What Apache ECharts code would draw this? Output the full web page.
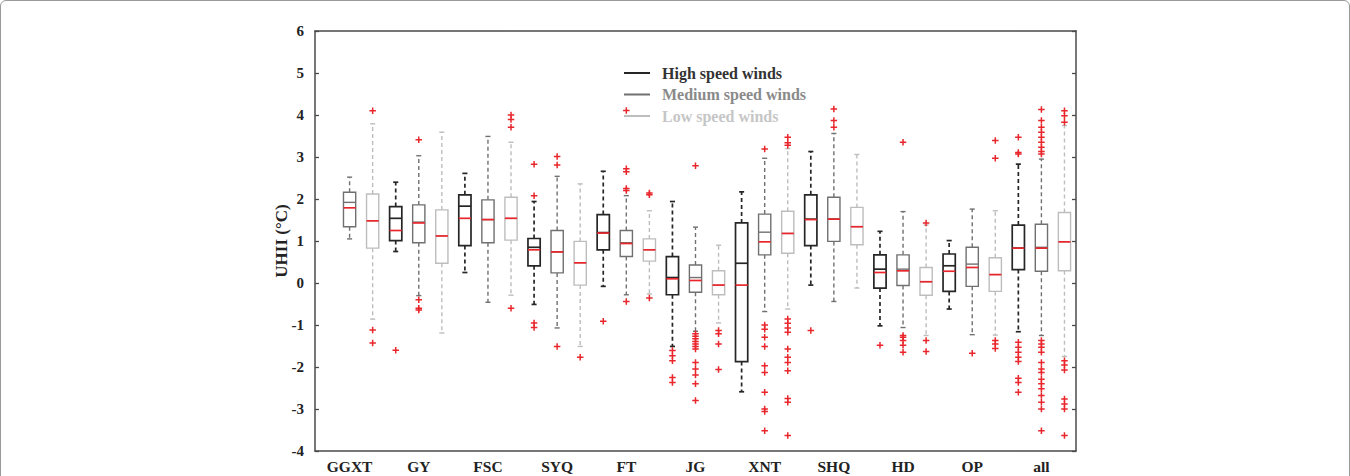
<!DOCTYPE html>
<html>
<head>
<meta charset="utf-8">
<script src="https://cdn.jsdelivr.net/npm/echarts@6/dist/echarts.min.js"></script>
<style>
html,body{margin:0;padding:0;background:#fff;}
#frame{position:absolute;left:0;top:0;width:1348px;height:480px;border:1px solid #9a9a9a;border-radius:6px;}
#chart{position:absolute;left:0;top:0;width:1350px;height:476px;}
</style>
</head>
<body>
<div id="frame"></div>
<div id="chart"></div>
<script>
// ---------- data ----------
const groups = ['GGXT','GY','FSC','SYQ','FT','JG','XNT','SHQ','HD','OP','all'];
const seriesNames = ['High speed winds','Medium speed winds','Low speed winds'];
const yTicks = [-4,-3,-2,-1,0,1,2,3,4,5,6];

// [lower whisker, Q1, median, Q3, upper whisker]
const highStats = [
  null,
  [0.75, 1.01, 1.25, 1.82, 2.40],
  [0.25, 0.89, 1.54, 2.10, 2.61],
  [-0.51, 0.41, 0.79, 1.06, 1.94],
  [-0.08, 0.79, 1.19, 1.63, 2.66],
  [-1.51, -0.28, 0.10, 0.63, 1.94],
  [-2.59, -1.87, -0.05, 1.43, 2.17],
  [-0.05, 0.89, 1.51, 2.10, 3.13],
  [-1.02, -0.12, 0.25, 0.67, 1.23],
  [-0.62, -0.20, 0.28, 0.69, 1.01],
  [-1.16, 0.32, 0.83, 1.38, 2.83]
];
const highMeans = [null, 1.54, 1.83, 0.85, 1.20, 0.13, 0.47, 1.52, 0.33, 0.41, 0.83];
const highOutliers = [
  [],
  [-1.60],
  [],
  [2.83, 2.08, -0.95, -1.06],
  [-0.91],
  [-1.61, -1.73, -1.85, -2.25, -2.37],
  [],
  [-1.13],
  [-1.48],
  [],
  [3.47, 3.11, 3.07, -1.41, -1.53, -1.65, -1.77, -1.87, -2.27, -2.37, -2.60]
];

const medStats = [
  [1.05, 1.34, 1.79, 2.16, 2.52],
  [-0.30, 0.96, 1.43, 1.86, 3.03],
  [-0.46, 0.96, 1.51, 1.98, 3.49],
  [-1.07, 0.24, 0.74, 1.25, 2.54],
  [-0.28, 0.63, 0.94, 1.25, 2.08],
  [-1.15, -0.22, 0.06, 0.43, 1.33],
  [-0.68, 0.67, 0.98, 1.64, 2.97],
  [-0.44, 0.99, 1.52, 2.04, 3.56],
  [-1.06, -0.06, 0.29, 0.67, 1.70],
  [-1.23, -0.08, 0.37, 0.85, 1.76],
  [-1.25, 0.28, 0.83, 1.40, 2.95]
];
const medMeans = [1.92, 1.45, 1.51, 0.74, 0.96, 0.13, 1.21, 1.53, 0.33, 0.45, 0.85];
const medOutliers = [
  [],
  [3.41, -0.40, -0.60, -0.64],
  [],
  [3.01, 2.81, -1.51],
  [4.11, 2.72, 2.65, 2.25, 2.20, -0.44],
  [2.79, -1.21, -1.27, -1.33, -1.39, -1.45, -1.51, -1.57, -1.89, -2.05, -2.19, -2.40, -2.80],
  [3.19, -1.00, -1.10, -1.29, -1.51, -1.97, -2.13, -2.60, -3.00, -3.06, -3.52],
  [4.14, 3.87, 3.71],
  [3.35, -1.25, -1.29, -1.37, -1.48, -1.65],
  [-1.67],
  [4.13, 3.87, 3.71, 3.59, 3.47, 3.35, 3.23, 3.13, 3.07, -1.37, -1.45, -1.53, -1.65, -1.89, -2.05, -2.13, -2.29, -2.40, -2.52, -2.68, -2.84, -3.00, -3.52]
];

const lowStats = [
  [-0.86, 0.83, 1.48, 2.12, 3.79],
  [-1.19, 0.47, 1.12, 1.74, 3.59],
  [-0.29, 1.02, 1.54, 2.04, 3.35],
  [-1.51, -0.05, 0.48, 0.99, 2.36],
  [-0.26, 0.52, 0.79, 1.05, 1.72],
  [-0.95, -0.28, -0.05, 0.29, 0.90],
  [-0.62, 0.71, 1.18, 1.71, 3.20],
  [-0.12, 0.91, 1.34, 1.80, 3.06],
  [-1.25, -0.29, 0.03, 0.37, 1.38],
  [-1.24, -0.20, 0.20, 0.60, 1.72],
  [-1.75, 0.29, 0.98, 1.68, 3.75]
];
const lowMeans = [1.48, 1.12, 1.54, 0.48, 0.79, -0.05, 1.18, 1.34, 0.03, 0.20, 0.98];
const lowOutliers = [
  [4.10, -1.12, -1.43],
  [],
  [4.00, 3.89, 3.71, -0.60],
  [-1.77],
  [2.14, 2.10, -0.36],
  [-1.13, -1.21, -1.45, -2.06],
  [3.47, 3.34, 3.28, -0.86, -0.96, -1.07, -1.17, -1.57, -1.77, -1.89, -2.09, -2.75, -2.84, -3.63],
  [],
  [1.43, -1.37, -1.63],
  [3.39, 2.97, -1.37, -1.45, -1.56],
  [4.10, 3.98, 3.83, -1.85, -1.95, -2.07, -2.76, -2.88, -3.00, -3.63]
];

// ---------- build ----------
const positions = [];
groups.forEach((g, i) => { for (let k = 0; k < 3; k++) positions.push(g + '_' + k); });

const classes = [
  { name: seriesNames[0], stats: highStats, means: highMeans, outliers: highOutliers, color: '#262626', text: '#333333', lw: 1.7 },
  { name: seriesNames[1], stats: medStats, means: medMeans, outliers: medOutliers, color: '#707070', text: '#8a8a8a', lw: 1.4 },
  { name: seriesNames[2], stats: lowStats, means: lowMeans, outliers: lowOutliers, color: '#bdbdbd', text: '#c6c6c6', lw: 1.4 }
];

const FONT = "'Liberation Serif','Times New Roman',serif";
const MEDIAN_RED = '#e8262b';

function makeRender(color, lw) {
  return function (params, api) {
    const x = api.value(0);
    const lo = api.value(1), q1 = api.value(2), med = api.value(3), q3 = api.value(4), hi = api.value(5), mean = api.value(6);
    const band = api.size([1, 0])[0];
    const w = band * 0.53, cw = band * 0.22;
    const pLo = api.coord([x, lo]), pQ1 = api.coord([x, q1]), pMed = api.coord([x, med]);
    const pQ3 = api.coord([x, q3]), pHi = api.coord([x, hi]), pMean = api.coord([x, mean]);
    const cx = pMed[0];
    const dashed = { stroke: color, lineWidth: lw, lineDash: [4, 3], fill: null };
    const solid = { stroke: color, lineWidth: lw, fill: null };
    return {
      type: 'group',
      children: [
        { type: 'line', shape: { x1: cx, y1: pQ3[1], x2: cx, y2: pHi[1] }, style: dashed },
        { type: 'line', shape: { x1: cx, y1: pQ1[1], x2: cx, y2: pLo[1] }, style: dashed },
        { type: 'line', shape: { x1: cx - cw / 2, y1: pHi[1], x2: cx + cw / 2, y2: pHi[1] }, style: solid },
        { type: 'line', shape: { x1: cx - cw / 2, y1: pLo[1], x2: cx + cw / 2, y2: pLo[1] }, style: solid },
        { type: 'rect', shape: { x: cx - w / 2, y: pQ3[1], width: w, height: pQ1[1] - pQ3[1] }, style: { stroke: color, lineWidth: lw, fill: '#fff' } },
        { type: 'line', shape: { x1: cx - w / 2, y1: pMean[1], x2: cx + w / 2, y2: pMean[1] }, style: solid },
        { type: 'line', shape: { x1: cx - w / 2, y1: pMed[1], x2: cx + w / 2, y2: pMed[1] }, style: { stroke: MEDIAN_RED, lineWidth: 1.7 } }
      ]
    };
  };
}

const series = [];
classes.forEach((c, ci) => {
  const boxData = [];
  const outData = [];
  groups.forEach((g, gi) => {
    const pos = gi * 3 + ci;
    const s = c.stats[gi];
    if (s) boxData.push([pos, s[0], s[1], s[2], s[3], s[4], c.means[gi]]);
    c.outliers[gi].forEach(v => outData.push([pos, v]));
  });
  series.push({
    name: c.name,
    type: 'custom',
    renderItem: makeRender(c.color, c.lw),
    itemStyle: { color: c.color },
    encode: { x: 0, y: [1, 2, 3, 4, 5] },
    data: boxData,
    z: 2
  });
  series.push({
    name: c.name + ' outliers',
    type: 'scatter',
    symbol: 'path://M0,5H10M5,0V10',
    symbolSize: 6.5,
    itemStyle: { color: 'rgba(0,0,0,0)', borderColor: MEDIAN_RED, borderWidth: 1.5, opacity: 1 },
    data: outData,
    z: 3
  });
});

const axisLineStyle = { color: '#4a4a4a', width: 1.5 };
const tickStyle = { color: '#4a4a4a', width: 1.3 };
const chart = echarts.init(document.getElementById('chart'), null, { renderer: 'svg' });
chart.setOption({
  animation: false,
  grid: { left: 315, right: 274, top: 31, bottom: 25 },
  legend: {
    orient: 'vertical',
    left: 619, top: 60,
    itemWidth: 26, itemHeight: 2, itemGap: 5.5,
    icon: 'rect',
    selectedMode: false,
    data: classes.map(c => ({ name: c.name, itemStyle: { color: c.color }, textStyle: { color: c.text } })),
    textStyle: { fontFamily: FONT, fontWeight: 'bold', fontSize: 16, padding: [0, 0, 0, 7], lineHeight: 16 }
  },
  xAxis: [{
    type: 'category',
    data: positions,
    position: 'bottom',
    axisLine: { onZero: false, lineStyle: axisLineStyle },
    axisTick: { inside: true, alignWithLabel: true, interval: 0, length: 4, lineStyle: tickStyle },
    axisLabel: {
      interval: 0, margin: 7,
      formatter: (v, i) => (i % 3 === 1 ? groups[Math.floor(i / 3)] : ''),
      fontFamily: FONT, fontWeight: 'bold', fontSize: 15.5, color: '#222'
    },
    splitLine: { show: false }
  }, {
    type: 'category',
    data: positions,
    position: 'top',
    axisLine: { onZero: false, lineStyle: axisLineStyle },
    axisTick: { inside: true, alignWithLabel: true, interval: 0, length: 4, lineStyle: tickStyle },
    axisLabel: { show: false },
    splitLine: { show: false }
  }],
  yAxis: [{
    type: 'value',
    min: yTicks[0], max: yTicks[yTicks.length - 1], interval: 1,
    position: 'left',
    name: 'UHII (°C)',
    nameLocation: 'middle',
    nameGap: 25,
    nameMoveOverlap: false,
    nameTextStyle: { fontFamily: FONT, fontWeight: 'bold', fontSize: 17, color: '#222' },
    axisLine: { show: true, onZero: false, lineStyle: axisLineStyle },
    axisTick: { show: true, inside: true, length: 4, lineStyle: tickStyle },
    axisLabel: { margin: 11, fontFamily: FONT, fontWeight: 'bold', fontSize: 15, color: '#222' },
    splitLine: { show: false }
  }, {
    type: 'value',
    min: yTicks[0], max: yTicks[yTicks.length - 1], interval: 1,
    position: 'right',
    axisLine: { show: true, onZero: false, lineStyle: axisLineStyle },
    axisTick: { show: true, inside: true, length: 4, lineStyle: tickStyle },
    axisLabel: { show: false },
    splitLine: { show: false }
  }],
  series: series
});
</script>
</body>
</html>
